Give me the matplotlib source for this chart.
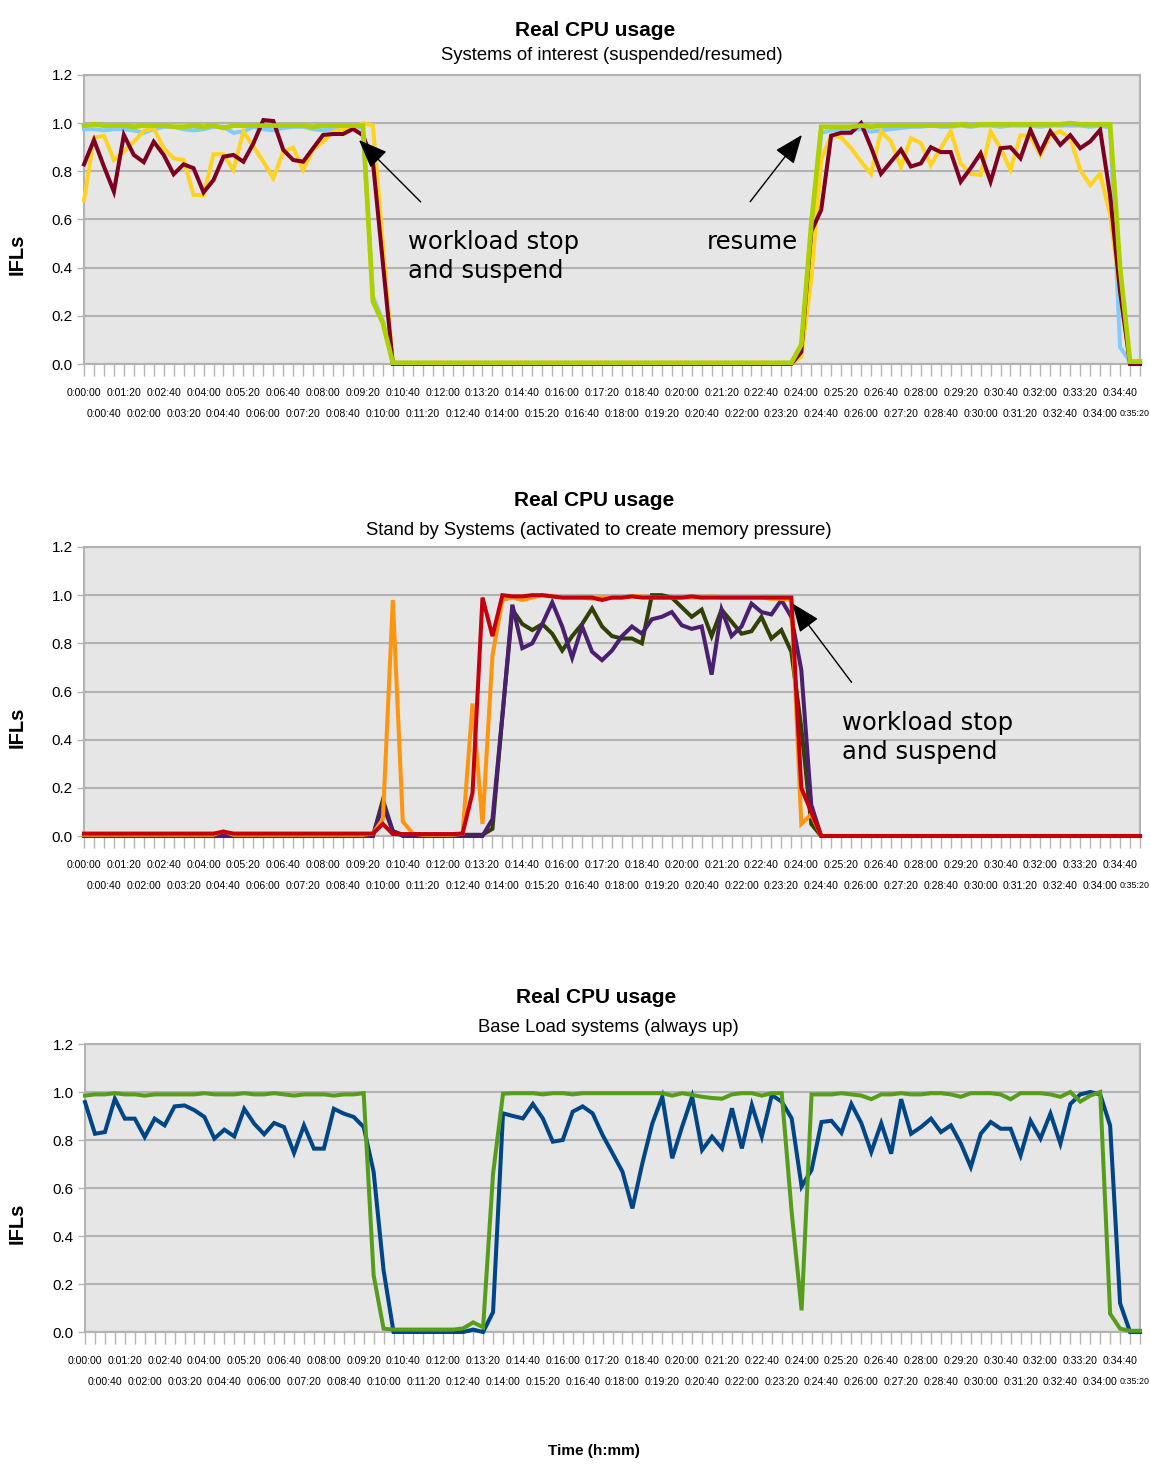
import matplotlib
matplotlib.use("Agg")
import matplotlib.pyplot as plt
from matplotlib.transforms import ScaledTranslation
import numpy as np

# ---------------- data ----------------
# time categories, one every 20 s from 0:00:00 to 0:35:20
n_points = 107
time_labels = [f"{(20*i)//3600}:{((20*i)%3600)//60:02d}:{(20*i)%60:02d}" for i in range(n_points)]

# Panel 1: Systems of interest (suspended/resumed)
p1_lightblue = ([0.975, 0.975, 0.97, 0.975, 0.975, 0.97, 0.96, 0.975, 0.985, 0.985, 0.975, 0.97, 0.975, 0.985,
                 0.985, 0.96, 0.965, 0.985, 0.975, 0.97, 0.98, 0.985, 0.985, 0.975, 0.97, 0.975, 0.98, 0.985, 0.98]
                + [0.28, 0.18] + [0.0] * 41
                + [0.08, 0.5, 0.96, 0.97, 0.975, 0.97, 0.975, 0.965, 0.97, 0.975, 0.98]
                + [0.985, 0.985, 0.99, 0.985, 0.985, 0.99, 0.985, 0.99, 0.99, 0.985, 0.99, 0.99, 0.99, 0.985,
                   0.99, 0.99, 0.99, 0.99, 0.985, 0.99]
                + [0.98, 0.07, 0.01, 0.01])
p1_yellow = ([0.68, 0.94, 0.948, 0.847, 0.882, 0.923, 0.968, 0.979, 0.896, 0.854, 0.847, 0.702, 0.70, 0.871,
              0.871, 0.806, 0.965, 0.903, 0.84, 0.771, 0.882, 0.898, 0.806, 0.89, 0.923, 0.965, 0.976, 0.976,
              1.0, 0.99]
             + [0.5] + [0.0] * 41
             + [0.03, 0.35, 0.85, 0.95, 0.94, 0.896, 0.84, 0.79, 0.966, 0.924, 0.82, 0.938, 0.917, 0.826,
                0.896, 0.966, 0.833, 0.79, 0.785, 0.966, 0.896, 0.806, 0.95, 0.945, 0.868, 0.95, 0.966, 0.938,
                0.806, 0.743, 0.79, 0.62, 0.3, 0.0, 0.0])
p1_darkred = ([0.829, 0.93, 0.82, 0.716, 0.951, 0.868, 0.838, 0.923, 0.868, 0.788, 0.829, 0.813, 0.713, 0.764,
               0.861, 0.868, 0.84, 0.916, 1.013, 1.009, 0.889, 0.847, 0.84, 0.896, 0.951, 0.955, 0.955, 0.976,
               0.95, 0.84]
              + [0.42] + [0.0] * 41
              + [0.05, 0.55, 0.64, 0.948, 0.96, 0.96, 1.0, 0.9, 0.79, 0.84, 0.89, 0.82, 0.833, 0.9, 0.88, 0.88,
                 0.757, 0.813, 0.875, 0.757, 0.896, 0.9, 0.854, 0.972, 0.88, 0.966, 0.91, 0.95, 0.896, 0.924,
                 0.972, 0.7, 0.3, 0.0, 0.0])
p1_green = ([0.99, 0.995, 0.99, 0.99, 0.99, 0.985, 0.99, 0.99, 0.99, 0.985, 0.985, 0.99, 0.985, 0.99, 0.98,
             0.99, 0.99, 0.99, 0.99, 0.99, 0.99, 0.99, 0.99, 0.985, 0.99, 0.99, 0.99, 0.99, 0.99]
            + [0.26, 0.17] + [0.005] * 41
            + [0.08, 0.58, 0.985, 0.985, 0.985, 0.985, 0.99, 0.985, 0.99, 0.99, 0.99, 0.99, 0.99, 0.99, 0.99,
               0.99, 0.995, 0.99, 0.995, 0.995, 0.995, 0.995, 0.995, 0.995, 0.995, 0.995, 0.995, 1.0, 0.995,
               0.995, 0.995, 0.995, 0.4, 0.01, 0.01])

# Panel 2: Stand by Systems (activated to create memory pressure)
p2_olive = ([0.0] * 29 + [0.0, 0.15, 0.02] + [0.005] * 9
            + [0.03, 0.5, 0.94, 0.88, 0.855, 0.88, 0.84, 0.77, 0.83, 0.88, 0.945, 0.87, 0.83, 0.82, 0.82, 0.8,
               1.0, 1.0, 0.99, 0.95, 0.91, 0.94, 0.83, 0.94, 0.89, 0.84, 0.85, 0.91, 0.82, 0.855, 0.765, 0.45,
               0.05]
            + [0.0] * 33)
p2_purple = ([0.0] * 29 + [0.0, 0.13, 0.02] + [0.0] * 9
             + [0.07, 0.5, 0.96, 0.78, 0.8, 0.88, 0.97, 0.87, 0.74, 0.87, 0.765, 0.73, 0.77, 0.83, 0.87, 0.84,
                0.9, 0.91, 0.93, 0.875, 0.86, 0.87, 0.67, 0.94, 0.83, 0.87, 0.965, 0.93, 0.92, 0.98, 0.91, 0.69,
                0.13]
             + [0.0] * 33)
p2_orange = ([0.005] * 14 + [0.02] + [0.005] * 14
             + [0.01, 0.07, 0.98, 0.06, 0.01] + [0.005] * 4
             + [0.01, 0.55, 0.05, 0.75, 0.98, 0.99, 0.98]
             + [0.99, 1.0, 0.995, 0.99, 0.99, 0.99, 0.985, 0.99, 0.99, 0.99, 0.995, 0.995, 0.99, 0.99, 0.99,
                0.99, 0.99, 0.99, 0.995, 0.99, 0.99, 0.99, 0.99, 0.99, 0.985, 0.985]
             + [0.98, 0.05, 0.09] + [0.0] * 33)
p2_red = ([0.01] * 14 + [0.018] + [0.01] * 14
          + [0.01, 0.05, 0.008, 0.008, 0.008, 0.008, 0.008, 0.008, 0.008, 0.01]
          + [0.18, 0.99, 0.83, 1.0]
          + [0.995, 0.995, 1.0, 1.0, 0.995, 0.99, 0.99, 0.99, 0.99, 0.98, 0.99, 0.99, 0.995, 0.99, 0.99,
             0.99, 0.99, 0.99, 0.995, 0.99, 0.99, 0.99, 0.99, 0.99, 0.99, 0.99, 0.99, 0.99, 0.99]
          + [0.2, 0.1] + [0.0] * 33)

# Panel 3: Base Load systems (always up)
p3_blue = ([0.958, 0.826, 0.833, 0.972, 0.889, 0.889, 0.8125, 0.889, 0.861, 0.94, 0.944, 0.924, 0.896, 0.806,
            0.843, 0.815, 0.93, 0.868, 0.824, 0.871, 0.854, 0.746, 0.861, 0.764, 0.764, 0.93, 0.91, 0.896,
            0.854, 0.667, 0.257]
           + [0.0, 0.0, 0.0, 0.0, 0.0, 0.0, 0.0, 0.0, 0.01, 0.0, 0.083]
           + [0.911, 0.9, 0.89, 0.95, 0.89, 0.793, 0.8, 0.918, 0.94, 0.911, 0.821, 0.745, 0.668, 0.515, 0.703,
              0.869, 0.98, 0.724, 0.856, 0.98, 0.758, 0.814, 0.765, 0.932, 0.765, 0.946, 0.814, 0.987, 0.96,
              0.89, 0.606, 0.675]
           + [0.875, 0.88, 0.83, 0.95, 0.87, 0.75, 0.87, 0.743, 0.97, 0.826, 0.854, 0.889, 0.833, 0.861, 0.785,
              0.6875, 0.826, 0.875, 0.847, 0.847, 0.736, 0.88, 0.806, 0.91, 0.785, 0.95, 0.99, 1.0, 0.99, 0.86,
              0.12, 0.0, 0.0])
p3_green = ([0.985, 0.99, 0.99, 0.995, 0.99, 0.99, 0.985, 0.99, 0.99, 0.99, 0.99, 0.99, 0.995, 0.99, 0.99,
             0.99, 0.995, 0.99, 0.99, 0.995, 0.99, 0.985, 0.99, 0.99, 0.99, 0.985, 0.99, 0.99, 0.995]
            + [0.236, 0.014, 0.01, 0.01, 0.01, 0.01, 0.01, 0.01, 0.01, 0.015, 0.04, 0.02, 0.66, 0.993]
            + [0.995, 0.995, 0.995, 0.99, 0.995, 0.995, 0.99, 0.995, 0.995, 0.995, 0.995, 0.995, 0.995, 0.995,
               0.995, 0.995]
            + [0.985, 0.995, 0.988, 0.98, 0.975, 0.972, 0.99, 0.995, 0.995, 0.985, 0.995, 0.995, 0.5, 0.09, 0.99]
            + [0.99, 0.99, 0.995, 0.99, 0.985, 0.97, 0.99, 0.99, 0.995, 0.99, 0.99, 0.995, 0.995, 0.99, 0.98,
               0.995, 0.995, 0.995, 0.99, 0.97, 0.995, 0.995, 0.995, 0.99, 0.98, 1.0, 0.96, 0.985, 1.0]
            + [0.076, 0.014, 0.005, 0.005])

for s in (p1_lightblue, p1_yellow, p1_darkred, p1_green, p2_olive, p2_purple, p2_orange, p2_red,
          p3_blue, p3_green):
    assert len(s) == n_points, len(s)

titles = ["Real CPU usage"] * 3
subtitles = ["Systems of interest (suspended/resumed)",
             "Stand by Systems (activated to create memory pressure)",
             "Base Load systems (always up)"]
yticks = [0.0, 0.2, 0.4, 0.6, 0.8, 1.0, 1.2]

# ---------------- style ----------------
SANS = ["Liberation Sans", "DejaVu Sans"]
W, H = 1150, 1464
GRID = "#b3b3b3"
BG = "#e6e6e6"
XT_SIZE = 7.6


def fx(x):
    return x / W


def fy(y):
    return 1 - y / H


fig = plt.figure(figsize=(W / 100, H / 100), dpi=100)

panels = [
    dict(box=(84, 75, 1140, 364), tb=(595, 36), sb=(612, 60), ifl=254,
         series=[(p1_lightblue, "#83caff", 2.9), (p1_yellow, "#ffd320", 2.9),
                 (p1_darkred, "#7e0021", 2.9), (p1_green, "#aecf00", 3.4)]),
    dict(box=(84, 547, 1140, 836), tb=(594, 506), sb=(599, 535), ifl=727,
         series=[(p2_olive, "#314004", 2.9), (p2_purple, "#4b1f6f", 2.9),
                 (p2_orange, "#ff950e", 2.9), (p2_red, "#c5000b", 2.9)]),
    dict(box=(85, 1044, 1140, 1332), tb=(596, 1003), sb=(608, 1032), ifl=1223,
         series=[(p3_blue, "#004586", 2.9), (p3_green, "#579d1c", 2.9)]),
]

axes = []
x = np.arange(n_points)
major_idx = [i for i in range(n_points) if i % 4 == 0]
minor_idx = [i for i in range(n_points) if i % 4 != 0]
for k, p in enumerate(panels):
    l, t, r, b = p["box"]
    ax = fig.add_axes([fx(l), fy(b), (r - l) / W, (b - t) / H])
    ax.set_facecolor(BG)
    for vals, col, lw in p["series"]:
        ax.plot(x, vals, color=col, lw=lw, solid_joinstyle="miter", clip_on=False, zorder=3)
    ax.set_xlim(0, n_points - 1)
    ax.set_ylim(0, 1.2)
    ax.set_yticks(yticks)
    ax.set_yticklabels([f"{v:.1f}" for v in yticks], family=SANS, fontsize=11)
    ax.yaxis.grid(True, color=GRID, lw=1.5, zorder=1)
    ax.set_axisbelow(True)
    for sp in ax.spines.values():
        sp.set_color(GRID)
        sp.set_linewidth(1.5)
    ax.set_xticks(major_idx)
    ax.set_xticklabels([time_labels[i] for i in major_idx], family=SANS, fontsize=XT_SIZE)
    ax.set_xticks(minor_idx, minor=True)
    ax.set_xticklabels([time_labels[i] if i % 4 == 2 else "" for i in minor_idx], minor=True,
                       family=SANS, fontsize=XT_SIZE)
    ax.tick_params(axis="x", which="both", direction="out", length=8.6, width=1, color=GRID)
    ax.tick_params(axis="x", which="major", pad=9)
    ax.tick_params(axis="x", which="minor", pad=24)
    ax.tick_params(axis="y", direction="out", length=5, width=1, color=GRID, pad=3)
    # the last (right-edge) time label: slightly smaller and nudged so it stays inside the picture
    last = ax.xaxis.get_minorticklabels()[-1]
    last.set_fontsize(6.4)
    last.set_transform(last.get_transform() + ScaledTranslation(-5.5 / 100, 0, fig.dpi_scale_trans))
    fig.text(fx(p["tb"][0]), fy(p["tb"][1]), titles[k], ha="center", va="baseline",
             fontsize=15, fontweight="bold", family=SANS)
    fig.text(fx(p["sb"][0]), fy(p["sb"][1]), subtitles[k], ha="center", va="baseline",
             fontsize=13.3, family=SANS)
    fig.text(fx(17.6), fy(p["ifl"]), "IFLs", rotation=90, ha="center", va="center",
             fontsize=14.5, fontweight="bold", family=SANS)
    axes.append(ax)

fig.text(fx(594), fy(1455), "Time (h:mm)", ha="center", va="baseline", fontsize=11,
         fontweight="bold", family=SANS)

arrow_kw = dict(arrowstyle="-|>,head_length=1.8,head_width=0.72", color="black", lw=1,
                mutation_scale=10, shrinkA=0, shrinkB=0)
ann_font = dict(fontsize=17.5, family="DejaVu Sans", ha="left", va="center", linespacing=1.3)

a1 = axes[0]
a1.annotate("", xy=(27.6, 0.93), xytext=(33.8, 0.673), arrowprops=arrow_kw, annotation_clip=False)
a1.text(32.5, 0.446, "workload stop\nand suspend", **ann_font)
a1.annotate("", xy=(72.06, 0.951), xytext=(66.87, 0.674), arrowprops=arrow_kw, annotation_clip=False)
a1.text(62.5, 0.508, "resume", **ann_font)

a2 = axes[1]
a2.annotate("", xy=(71.1, 0.966), xytext=(77.05, 0.638), arrowprops=arrow_kw, annotation_clip=False)
a2.text(76.1, 0.409, "workload stop\nand suspend", **ann_font)

fig.savefig("out.png", dpi=100)
